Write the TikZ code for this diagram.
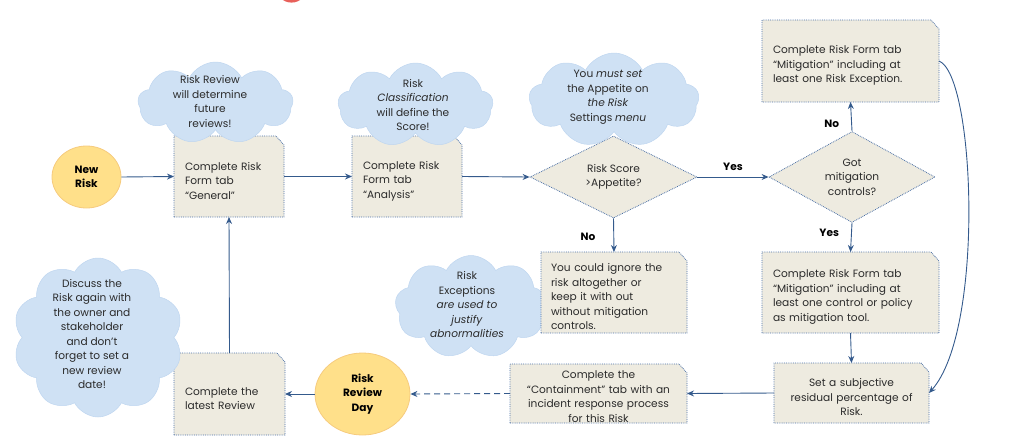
\documentclass[tikz,border=0pt]{standalone}
\usepackage{fontspec}
\setmainfont{Poppins}
\usetikzlibrary{shapes.geometric,shapes.symbols,arrows.meta}
\definecolor{beige}{HTML}{EEEBE0}
\definecolor{edge}{HTML}{4A6FA5}
\definecolor{arr}{HTML}{345A8C}
\definecolor{cloudc}{HTML}{CFE1F4}
\definecolor{cloudb}{HTML}{BFD6F0}
\definecolor{yel}{HTML}{FFE08A}
\definecolor{yelb}{HTML}{F6CB7E}
\definecolor{redc}{HTML}{E8605A}
\definecolor{txt}{HTML}{2B2B2B}
\newcommand{\tabpath}[1]{\filldraw[tabline] (#1.south west) -- (#1.north west) -- ([xshift=-8pt]#1.north east) -- ([yshift=-9pt]#1.north east) -- (#1.south east) -- cycle;}
\begin{document}
\begin{tikzpicture}[x=1pt,y=-1pt,
  font=\fontsize{10.6}{14.5}\selectfont,
  tabbox/.style={rectangle, inner sep=0pt, outer sep=0pt},
  tabline/.style={fill=beige, draw=edge, densely dotted, line width=0.8pt},
  boxtext/.style={inner sep=0pt, text=txt, yshift=-4.5pt},
  decide/.style={diamond, fill=beige, draw=edge, densely dotted, line width=0.8pt,
    inner sep=0pt, align=center, text=txt},
  term/.style={ellipse, fill=yel, draw=yelb, line width=0.8pt, inner sep=0pt,
    align=center, text=black, font=\fontsize{10.6}{14.5}\selectfont\bfseries},
  puff/.style={cloud, cloud puffs=9, cloud puff arc=125, cloud ignores aspect,
    fill=cloudc, draw=cloudb, line width=0.5pt, inner sep=0pt},
  cloudtext/.style={align=center, text=txt, inner sep=0pt},
  flow/.style={draw=arr, line width=0.9pt, -{Stealth[length=7pt,width=6pt]}},
  lbl/.style={font=\fontsize{10.6}{12}\selectfont\bfseries, inner sep=0pt}
]
\useasboundingbox (0,0) rectangle (1024,447);
\clip (0,0) rectangle (1024,447);
\fill[redc] (291.5,-13) circle (15.6);

% terminals
\node[term, minimum width=69pt, minimum height=62pt] (new) at (86.5,177) {New\\Risk};
\node[term, minimum width=95pt, minimum height=82pt] (day) at (362.5,394) {Risk\\Review\\Day};

% boxes
\node[tabbox, minimum width=110pt, minimum height=81pt] (gen) at (229,176.5) {};
\tabpath{gen}
\node[boxtext, text width=88pt, align=left] (gent) at (gen.center) {Complete Risk\\Form tab\\“General”};
\node[tabbox, minimum width=110pt, minimum height=81pt] (ana) at (407,176.5) {};
\tabpath{ana}
\node[boxtext, text width=88pt, align=left] (anat) at (ana.center) {Complete Risk\\Form tab\\“Analysis”};
\node[tabbox, minimum width=177pt, minimum height=82pt] (mitex) at (850.5,61) {};
\tabpath{mitex}
\node[boxtext, text width=155pt, align=left] (mitext) at (mitex.center) {Complete Risk Form tab\\“Mitigation” including at\\least one Risk Exception.};
\node[tabbox, minimum width=177pt, minimum height=81pt] (mitc) at (850.5,292.5) {};
\tabpath{mitc}
\node[boxtext, text width=155pt, align=left] (mitct) at (mitc.center) {Complete Risk Form tab\\“Mitigation” including at\\least one control or policy\\as mitigation tool.};
\node[tabbox, minimum width=155pt, minimum height=60pt] (set) at (851.5,393) {};
\tabpath{set}
\node[boxtext, text width=145pt, align=center] (sett) at (set.center) {Set a subjective\\residual percentage of\\Risk.};
\node[tabbox, minimum width=177pt, minimum height=59pt] (cont) at (598.5,393.5) {};
\tabpath{cont}
\node[boxtext, text width=170pt, align=center, yshift=1.5pt] (contt) at (cont.center) {Complete the\\“Containment” tab with an\\incident response process\\for this Risk};
\node[tabbox, minimum width=111pt, minimum height=82pt] (rev) at (229.5,394) {};
\tabpath{rev}
\node[boxtext, text width=89pt, align=left] (revt) at (rev.center) {Complete the\\latest Review};

% cloud behind the ignore box
\node[puff, minimum width=152pt, minimum height=103pt] (c5) at (471,307) {};
\node[cloudtext] (t5) at (467,305) {Risk\\Exceptions\\\textit{are used to}\\\textit{justify}\\\textit{abnormalities}};

\node[tabbox, minimum width=146pt, minimum height=81pt] (ign) at (614,292.5) {};
\tabpath{ign}
\node[boxtext, text width=126pt, align=left] (ignt) at (ign.center) {You could ignore the\\risk altogether or\\keep it with out\\without mitigation\\controls.};

% decisions
\node[decide, minimum width=167pt, minimum height=82pt] (d1) at (613.5,177) {Risk Score\\>Appetite?};
\node[decide, minimum width=166pt, minimum height=81pt] (d2) at (852,177) {Got\\mitigation\\controls?};

% clouds on top
\node[puff, minimum width=155pt, minimum height=82pt] (c1) at (215.5,103) {};
\node[cloudtext] (t1) at (210,101.5) {Risk Review\\will determine\\future\\reviews!};
\node[puff, minimum width=155pt, minimum height=84pt] (c2) at (415.5,105) {};
\node[cloudtext] (t2) at (413,105) {Risk\\\textit{Classification}\\will define the\\Score!};
\node[puff, minimum width=170pt, minimum height=94pt] (c3) at (614,100) {};
\node[cloudtext] (t3) at (608,97) {You \textit{must set}\\the Appetite on\\\textit{the Risk}\\Settings \textit{menu}};
\node[puff, cloud puffs=10, minimum width=170pt, minimum height=159pt] (c4) at (98,337.5) {};
\node[cloudtext] (t4) at (92,334) {Discuss the\\Risk again with\\the owner and\\stakeholder\\and don't\\forget to set a\\new review\\date!};

% connectors
\draw[flow] (new.east) -- (gen.west);
\draw[flow] (gen.east) -- (ana.west);
\draw[flow] (ana.east) -- (d1.west);
\draw[flow] (d1.east) -- node[lbl, above=6pt] (yes1) {Yes} (d2.west);
\draw[flow] (d2.north) -- node[lbl, left=12pt, pos=0.25] (no2) {No} (mitex.south);
\draw[flow] (d2.south) -- node[lbl, left=12pt, pos=0.35] (yes2) {Yes} (mitc.north);
\draw[flow] (d1.south) -- node[lbl, left=18pt, pos=0.55] (no1) {No} (ign.north);
\draw[flow] (mitc.south) -- (set.north);
\draw[flow] (set.west) -- (cont.east);
\draw[flow, dash pattern=on 6pt off 4pt] (cont.west) -- (day.east);
\draw[flow] (day.west) -- (rev.east);
\draw[flow] (rev.north) -- (gen.south);
\draw[flow] (mitex.east) .. controls (975,75) and (985,330) .. (set.east);
\end{tikzpicture}
\end{document}
